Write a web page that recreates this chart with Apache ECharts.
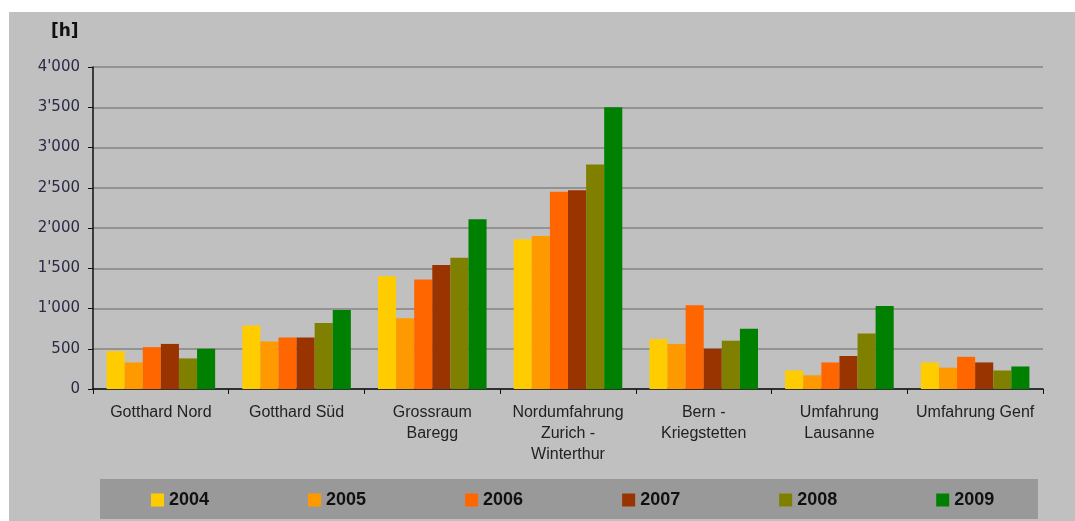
<!DOCTYPE html>
<html>
<head>
<meta charset="utf-8">
<script src="https://cdn.jsdelivr.net/npm/echarts@6/dist/echarts.min.js"></script>
<style>
  html, body { margin: 0; padding: 0; background: #ffffff; }
  #chart { position: absolute; left: 0; top: 0; width: 1075px; height: 521px; }
</style>
</head>
<body>
<div id="chart"></div>
<script>
const categories = [
  "Gotthard Nord",
  "Gotthard Süd",
  "Grossraum\nBaregg",
  "Nordumfahrung\nZurich -\nWinterthur",
  "Bern -\nKriegstetten",
  "Umfahrung\nLausanne",
  "Umfahrung Genf"
];
const years = ["2004", "2005", "2006", "2007", "2008", "2009"];
const v2004 = [470, 790, 1400, 1860, 620, 230, 330];
const v2005 = [330, 590, 880, 1900, 560, 170, 265];
const v2006 = [520, 640, 1360, 2450, 1040, 330, 400];
const v2007 = [560, 640, 1540, 2470, 500, 410, 330];
const v2008 = [380, 820, 1630, 2790, 600, 690, 230];
const v2009 = [500, 980, 2110, 3500, 750, 1030, 280];
const yTicks = [0, 500, 1000, 1500, 2000, 2500, 3000, 3500, 4000];
const colors = ["#FFCC00", "#FF9900", "#FF6600", "#993300", "#808000", "#008000"];
const seriesValues = [v2004, v2005, v2006, v2007, v2008, v2009];

function fmt(v) {
  const s = String(v);
  if (v >= 1000) return s.slice(0, s.length - 3) + "'" + s.slice(s.length - 3);
  return s;
}

const chart = echarts.init(document.getElementById('chart'), null, { renderer: 'canvas' });
const option = {
  backgroundColor: '#ffffff',
  animation: false,
  textStyle: { fontFamily: 'Liberation Sans, Arial, sans-serif' },
  graphic: [
    { type: 'rect', z: -10, shape: { x: 9, y: 12, width: 1066, height: 509 }, style: { fill: '#c0c0c0' } },
    { type: 'rect', z: -5, shape: { x: 100, y: 479, width: 938, height: 40 }, style: { fill: '#999999' } },
    { type: 'text', left: 51, top: 23, style: { text: '[h]', font: 'bold 17px DejaVu Sans, sans-serif', fill: '#111111' } }
  ],
  legend: {
    data: years,
    left: 151,
    top: 491,
    padding: 0,
    itemWidth: 13,
    itemHeight: 13,
    itemGap: 99,
    icon: 'rect',
    textStyle: { fontSize: 18, fontWeight: 'bold', color: '#111111', fontFamily: 'Liberation Sans, Arial, sans-serif' }
  },
  grid: { left: 93, right: 32, top: 67, bottom: 132, containLabel: false },
  xAxis: {
    type: 'category',
    data: categories,
    axisLine: { lineStyle: { color: '#111111', width: 1.5 } },
    axisTick: { show: true, length: 5, lineStyle: { color: '#111111' } },
    axisLabel: { fontSize: 16, lineHeight: 21, color: '#222222', margin: 13, interval: 0, fontFamily: 'Liberation Sans, Arial, sans-serif' }
  },
  yAxis: {
    type: 'value',
    min: 0,
    max: 4000,
    interval: 500,
    axisLine: { show: true, lineStyle: { color: '#111111', width: 1.5 } },
    axisTick: { show: true, length: 5, lineStyle: { color: '#111111' } },
    axisLabel: { fontSize: 15, color: '#2a2a44', margin: 13, formatter: fmt, fontFamily: 'DejaVu Sans, sans-serif' },
    splitLine: { lineStyle: { color: '#858585', width: 1.5 } }
  },
  series: years.map((y, i) => ({
    name: y,
    type: 'bar',
    data: seriesValues[i],
    barGap: '0%',
    barCategoryGap: '20%',
    itemStyle: { color: colors[i] }
  }))
};
chart.setOption(option);
</script>
</body>
</html>
